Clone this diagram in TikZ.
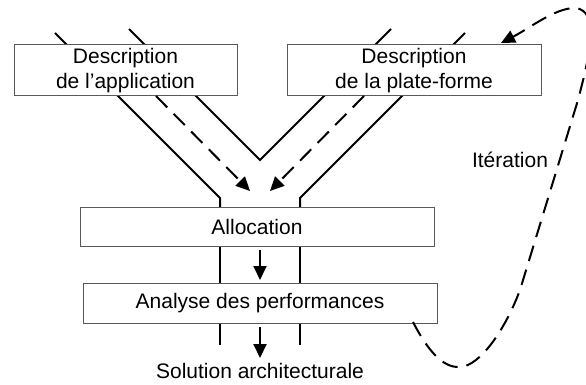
\documentclass[tikz,border=0pt]{standalone}
\usepackage{fontspec}
\setmainfont{Liberation Sans}
\usetikzlibrary{arrows.meta}
\begin{document}
\begin{tikzpicture}[x=1pt,y=-1pt,
  box/.style={draw=black!65,line width=1pt,fill=white,inner sep=0pt,align=center,font=\fontsize{21}{25}\selectfont},
  chan/.style={line width=2pt},
  flow/.style={line width=2pt,-{Triangle[length=14pt,width=13pt]}},
  dashflow/.style={flow,dash pattern=on 16pt off 9pt},
  lbl/.style={font=\fontsize{21}{25}\selectfont,inner sep=0pt}]
\useasboundingbox (0,0) rectangle (586,385);
% channels
\draw[chan] (55,33) -- (220,198) -- (220,207);
\draw[chan] (129,29) -- (260,160) -- (391,29);
\draw[chan] (465,33) -- (300,198) -- (300,207);
\draw[chan] (220,246) -- (220,283);
\draw[chan] (300,246) -- (300,283);
\draw[chan] (220,323) -- (220,345);
\draw[chan] (300,323) -- (300,345);
% boxes
\node[box,minimum width=223pt,minimum height=51pt] (app) at (125.5,70.5) {Description\\de l’application};
\node[box,minimum width=254pt,minimum height=51pt] (plat) at (414,70.5) {Description\\de la plate-forme};
\node[box,minimum width=354pt,minimum height=39pt] (alloc) at (257,226.5) {Allocation};
\node[box,minimum width=354pt,minimum height=40pt] (ana) at (260,303) {Analyse des performances};
\node[lbl] (sol) at (260,371) {Solution architecturale};
\node[lbl] (iter) at (510,160) {Itération};
% coordinates
\coordinate (dA) at (156,96);
\coordinate (dB) at (364,96);
\coordinate (tA) at (250,191);
\coordinate (tB) at (270,191);
\coordinate (a1) at (260,250);
\coordinate (a2) at (260,280);
\coordinate (b1) at (260,327);
\coordinate (b2) at (260,358);
\coordinate (is) at (413,322);
\coordinate (ie) at (501,43);
% arrows
\draw[dashflow] (dA) -- (tA);
\draw[dashflow] (dB) -- (tB);
\draw[flow] (a1) -- (a2);
\draw[flow] (b1) -- (b2);
\draw[dashflow] (is) .. controls (430,355) and (445,368) .. (460,367)
  .. controls (480,366) and (505,330) .. (520,290) -- (578,100)
  .. controls (590,55) and (600,10) .. (575,8)
  .. controls (555,8) and (530,28) .. (ie);
\end{tikzpicture}
\end{document}
